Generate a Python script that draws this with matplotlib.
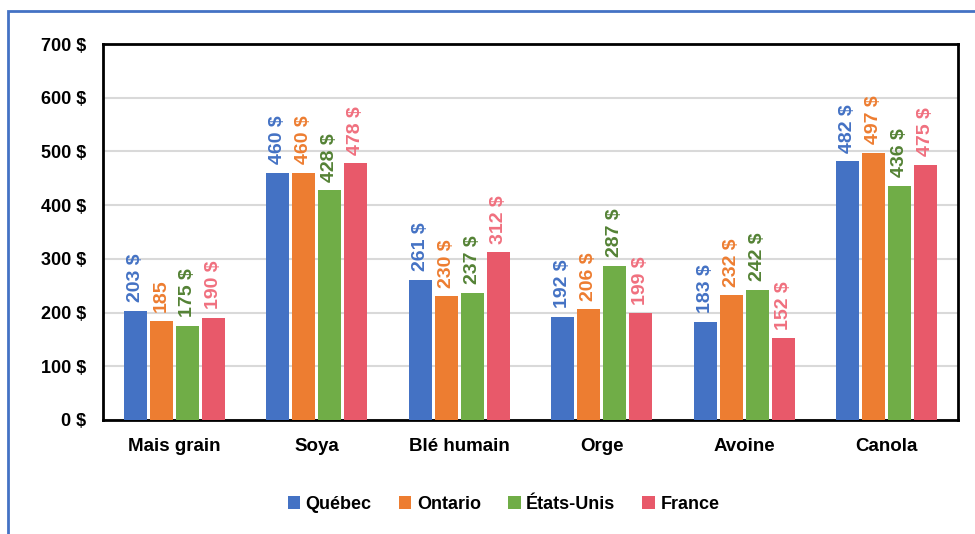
import numpy as np
import matplotlib.pyplot as plt
from matplotlib.patches import Rectangle
from matplotlib import font_manager

names = {f.name for f in font_manager.fontManager.ttflist}
fam = 'Liberation Sans Narrow' if 'Liberation Sans Narrow' in names else 'Liberation Sans'
plt.rcParams['font.family'] = [fam, 'DejaVu Sans']

categories = ['Mais grain', 'Soya', 'Blé humain', 'Orge', 'Avoine', 'Canola']
series = ['Québec', 'Ontario', 'États-Unis', 'France']
quebec = [203, 460, 261, 192, 183, 482]
ontario = [185, 460, 230, 206, 232, 497]
etats_unis = [175, 428, 237, 287, 242, 436]
france = [190, 478, 312, 199, 152, 475]
values = [quebec, ontario, etats_unis, france]
bar_colors = ['#4472C4', '#ED7D31', '#70AD47', '#E8596A']
label_colors = ['#4472C4', '#ED7D31', '#548235', '#F0707F']
yticks = [0, 100, 200, 300, 400, 500, 600, 700]

fig = plt.figure(figsize=(9.75, 5.34), dpi=100)
ax = fig.add_axes([0.1056, 0.2135, 0.877, 0.704])

x = np.arange(len(categories))
w = 0.16
step = 0.182
for i, (name, vals) in enumerate(zip(series, values)):
    pos = x + (i - 1.5) * step
    ax.bar(pos, vals, w, color=bar_colors[i], label=name, zorder=3)
    for p, v in zip(pos, vals):
        txt = f'{v}' if (i == 1 and p < 0.5) else f'{v} $'
        ax.text(p, v + 16, txt, rotation=90, ha='center', va='bottom',
                color=label_colors[i], fontsize=14, fontweight='bold')

ax.set_ylim(0, 700)
ax.set_xlim(-0.5, len(categories) - 0.5)
ax.set_yticks(yticks)
ax.set_yticklabels([f'{t} $' for t in yticks], fontsize=13, fontweight='bold')
ax.set_xticks(x)
ax.set_xticklabels(categories, fontsize=13.5, fontweight='bold')
ax.tick_params(length=0, pad=12)
ax.tick_params(axis='x', pad=13)
ax.grid(axis='y', color='#D9D9D9', linewidth=1.5, zorder=0)
for s in ax.spines.values():
    s.set_linewidth(2)
    s.set_color('black')

ax.legend(loc='center', bbox_to_anchor=(0.5164, 0.055), bbox_transform=fig.transFigure,
          ncol=4, frameon=False, prop={'weight': 'bold', 'size': 13},
          handlelength=0.7, handleheight=0.7, handletextpad=0.3, columnspacing=1.5)

fig.patches.append(Rectangle((8 / 975, -0.1), 1.2, 1 - 11 / 534 + 0.1,
                             transform=fig.transFigure, fill=False,
                             edgecolor='#4472C4', linewidth=2))

fig.savefig('out.png', dpi=100)
